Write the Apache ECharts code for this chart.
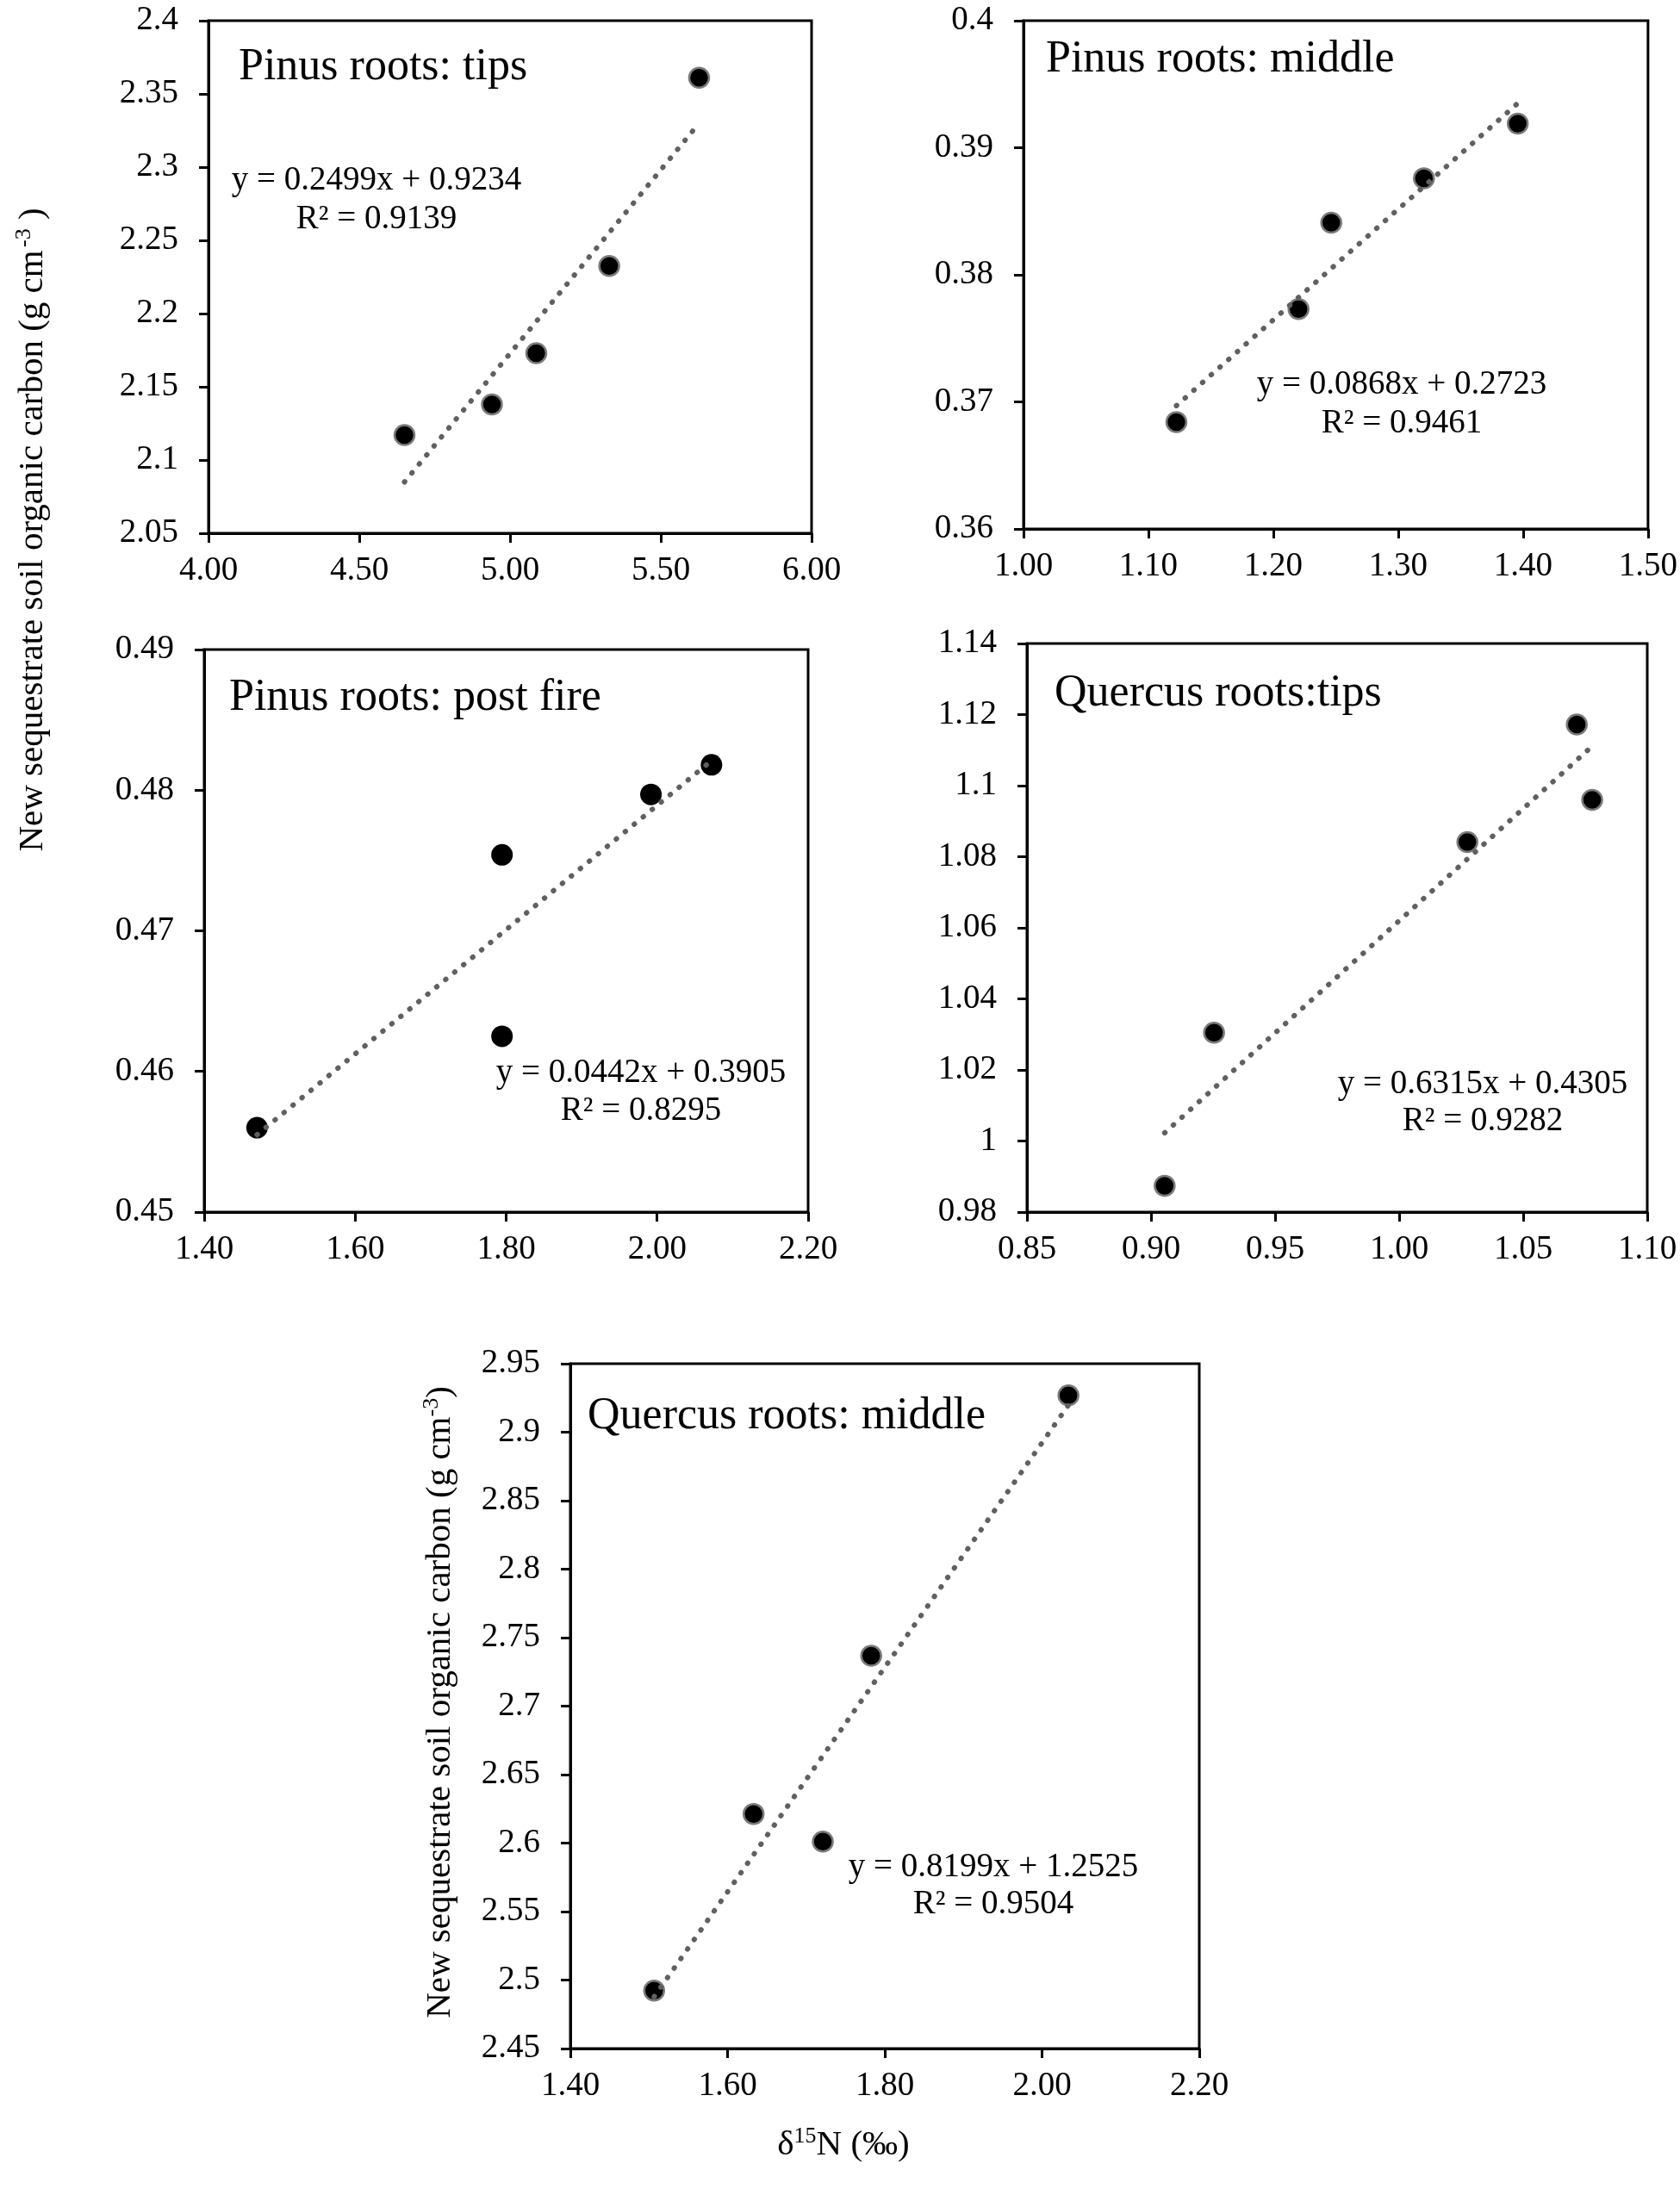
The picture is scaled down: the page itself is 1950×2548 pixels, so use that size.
<!DOCTYPE html>
<html>
<head>
<meta charset="utf-8">
<script src="https://cdn.jsdelivr.net/npm/echarts@6/dist/echarts.min.js"></script>
<style>
  html, body { margin: 0; padding: 0; background: #fff; }
  #chart { width: 1950px; height: 2548px; }
</style>
</head>
<body>
<div id="chart"></div>
<script>
// ---- data ----
const titles = ['Pinus roots: tips', 'Pinus roots: middle', 'Pinus roots: post fire', 'Quercus roots:tips', 'Quercus roots: middle'];
const equations = ['y = 0.2499x + 0.9234', 'y = 0.0868x + 0.2723', 'y = 0.0442x + 0.3905', 'y = 0.6315x + 0.4305', 'y = 0.8199x + 1.2525'];
const r2Labels = ['R² = 0.9139', 'R² = 0.9461', 'R² = 0.8295', 'R² = 0.9282', 'R² = 0.9504'];

const p1X = [4.65, 4.94, 5.087, 5.329, 5.627];
const p1Y = [2.117, 2.138, 2.173, 2.2325, 2.361];
const p1TrendX = [4.65, 5.627];
const p1TrendY = [2.085, 2.330];

const p2X = [1.1224, 1.2202, 1.2464, 1.3206, 1.3957];
const p2Y = [0.3684, 0.3773, 0.3841, 0.3876, 0.3919];
const p2TrendX = [1.1224, 1.3957];
const p2TrendY = [0.3697, 0.3935];

const p3X = [1.470, 1.7945, 1.7945, 1.9918, 2.072];
const p3Y = [0.4560, 0.4625, 0.4754, 0.4797, 0.4818];
const p3TrendX = [1.470, 2.072];
const p3TrendY = [0.4555, 0.4821];

const p4X = [0.9055, 0.9254, 1.0275, 1.0716, 1.0778];
const p4Y = [0.9874, 1.0305, 1.0841, 1.1172, 1.0960];
const p4TrendX = [0.9055, 1.0778];
const p4TrendY = [1.0023, 1.1111];

const p5X = [1.5066, 1.6331, 1.7212, 1.7827, 2.0336];
const p5Y = [2.4923, 2.6213, 2.6011, 2.7368, 2.9269];
const p5TrendX = [1.5066, 2.0336];
const p5TrendY = [2.4878, 2.9198];

// axis ticks: [min, max, interval]
const xTicks = [[4.0, 6.0, 0.5], [1.0, 1.5, 0.1], [1.4, 2.2, 0.2], [0.85, 1.10, 0.05], [1.4, 2.2, 0.2]];
const yTicks = [[2.05, 2.4, 0.05], [0.36, 0.40, 0.01], [0.45, 0.49, 0.01], [0.98, 1.14, 0.02], [2.45, 2.95, 0.05]];

const yAxisTitle = 'New sequestrate soil organic carbon (g cm';
const xAxisTitle = 'N (‰)';

// ---- layout ----
const FONT = '"Liberation Serif", "Times New Roman", serif';
const grids = [
  { left: 242, top: 24, width: 700, height: 595 },
  { left: 1188, top: 24, width: 725, height: 590 },
  { left: 237, top: 754, width: 701, height: 653 },
  { left: 1192, top: 747, width: 720, height: 660 },
  { left: 662, top: 1583, width: 730, height: 795 }
];
const titlePos = [[277, 78], [1214, 69], [266, 810], [1224, 805], [682, 1644]];
const eqPos = [[437, 210, 255], [1627, 447, 492], [744, 1246, 1290], [1721, 1259, 1302], [1153, 2168, 2211]];

const points = [[p1X, p1Y], [p2X, p2Y], [p3X, p3Y], [p4X, p4Y], [p5X, p5Y]];
const trends = [[p1TrendX, p1TrendY], [p2TrendX, p2TrendY], [p3TrendX, p3TrendY], [p4TrendX, p4TrendY], [p5TrendX, p5TrendY]];

const fmtY = v => String(parseFloat(v.toFixed(4)));
const fmtX = v => v.toFixed(2);

const xAxes = [], yAxes = [], series = [], graphics = [];
grids.forEach((g, i) => {
  g.show = true; g.borderColor = '#000'; g.borderWidth = 3; g.backgroundColor = 'transparent';
  g.containLabel = false;
  xAxes.push({
    type: 'value', gridIndex: i, min: xTicks[i][0], max: xTicks[i][1], interval: xTicks[i][2],
    axisLine: { show: true, onZero: false, lineStyle: { color: '#000', width: 3 } },
    axisTick: { show: true, length: 11, lineStyle: { color: '#000', width: 3 } },
    splitLine: { show: false },
    axisLabel: { color: '#000', fontFamily: FONT, fontSize: 39, margin: 24, formatter: fmtX }
  });
  yAxes.push({
    type: 'value', gridIndex: i, min: yTicks[i][0], max: yTicks[i][1], interval: yTicks[i][2],
    axisLine: { show: true, onZero: false, lineStyle: { color: '#000', width: 3 } },
    axisTick: { show: true, length: 11, lineStyle: { color: '#000', width: 3 } },
    splitLine: { show: false },
    axisLabel: { color: '#000', fontFamily: FONT, fontSize: 39, margin: 35, formatter: fmtY }
  });
  const pts = points[i][0].map((x, k) => [x, points[i][1][k]]);
  series.push({
    type: 'scatter', xAxisIndex: i, yAxisIndex: i, data: pts, z: 2,
    symbol: 'circle', symbolSize: i === 2 ? 25 : 23,
    itemStyle: { color: '#000', borderColor: i === 2 ? '#000' : '#7a7a7a', borderWidth: i === 2 ? 0 : 2.5, opacity: 1 },
    emphasis: { disabled: true }
  });
  const tr = trends[i][0].map((x, k) => [x, trends[i][1][k]]);
  series.push({
    type: 'line', xAxisIndex: i, yAxisIndex: i, data: tr, z: 3,
    symbol: 'none', silent: true,
    lineStyle: { color: '#606060', width: 6, type: [0.5, 13], cap: 'round' }
  });
  graphics.push({
    type: 'text', x: titlePos[i][0], y: titlePos[i][1],
    style: { text: titles[i], fontFamily: FONT, fontSize: 52, fill: '#000', align: 'left', verticalAlign: 'middle' }
  });
  graphics.push({
    type: 'text', x: eqPos[i][0], y: eqPos[i][1],
    style: { text: equations[i], fontFamily: FONT, fontSize: 39, fill: '#000', align: 'center', verticalAlign: 'middle' }
  });
  graphics.push({
    type: 'text', x: eqPos[i][0], y: eqPos[i][2],
    style: { text: r2Labels[i], fontFamily: FONT, fontSize: 39, fill: '#000', align: 'center', verticalAlign: 'middle' }
  });
});

const rich = {
  n: { fontFamily: FONT, fontSize: 41, fill: '#000', lineHeight: 46 },
  s: { fontFamily: FONT, fontSize: 26, fill: '#000', lineHeight: 46, verticalAlign: 'top' }
};
// left y-axis title (upper panels)
graphics.push({
  type: 'text', x: 38, y: 615, rotation: Math.PI / 2,
  style: { text: '{n|' + yAxisTitle + '} {s|-3}{n| )}', rich: rich, align: 'center', verticalAlign: 'middle' }
});
// bottom panel y-axis title
graphics.push({
  type: 'text', x: 511, y: 1976, rotation: Math.PI / 2,
  style: { text: '{n|' + yAxisTitle + '}{s|-3}{n|)}', rich: rich, align: 'center', verticalAlign: 'middle' }
});
// x-axis title
graphics.push({
  type: 'text', x: 979, y: 2490,
  style: { text: '{n|δ}{s|15}{n|' + xAxisTitle + '}', rich: rich, align: 'center', verticalAlign: 'middle' }
});

const chart = echarts.init(document.getElementById('chart'), null, { renderer: 'canvas' });
chart.setOption({
  backgroundColor: '#fff',
  animation: false,
  grid: grids,
  xAxis: xAxes,
  yAxis: yAxes,
  series: series,
  graphic: graphics
});
</script>
</body>
</html>
